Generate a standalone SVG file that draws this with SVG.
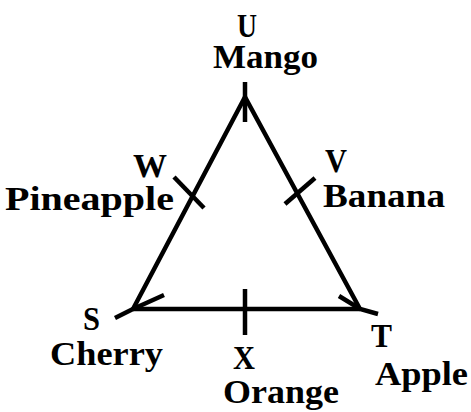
<svg xmlns="http://www.w3.org/2000/svg" width="471" height="412" viewBox="0 0 471 412">
<style>
.t{font-family:"Liberation Serif","Times New Roman",serif;font-weight:bold;font-size:34px;fill:#000}
.l{stroke:#000;stroke-width:4.5;fill:none;stroke-linecap:butt;stroke-linejoin:miter}
</style>
<rect width="471" height="412" fill="#fff"/>
<g id="connectors">
<path class="l" d="M133,309 L245,97 L360,309"/>
<path class="l" d="M133,309 L360,309"/>
<path class="l" d="M245,82 L245,122"/>
<path class="l" d="M115,318 L133,309 M164,295 L133,309"/>
<path class="l" d="M339,296 L360,309 L378,314"/>
<path class="l" d="M174,177 L204,208"/>
<path class="l" d="M285,204 L315,178"/>
<path class="l" d="M245,289 L245,335"/>
</g>
<g id="U"><text class="t" x="237" y="37" textLength="20" lengthAdjust="spacingAndGlyphs">U</text><text class="t" x="213" y="68" textLength="105" lengthAdjust="spacingAndGlyphs">Mango</text></g>
<g id="W"><text class="t" x="133" y="177" textLength="34" lengthAdjust="spacingAndGlyphs">W</text><text class="t" x="5" y="210" textLength="169" lengthAdjust="spacingAndGlyphs">Pineapple</text></g>
<g id="V"><text class="t" x="325" y="172" textLength="22" lengthAdjust="spacingAndGlyphs">V</text><text class="t" x="323" y="207" textLength="122" lengthAdjust="spacingAndGlyphs">Banana</text></g>
<g id="S"><text class="t" x="83" y="330" textLength="17" lengthAdjust="spacingAndGlyphs">S</text><text class="t" x="50" y="365" textLength="113" lengthAdjust="spacingAndGlyphs">Cherry</text></g>
<g id="X"><text class="t" x="233" y="369" textLength="22" lengthAdjust="spacingAndGlyphs">X</text><text class="t" x="223" y="403" textLength="116" lengthAdjust="spacingAndGlyphs">Orange</text></g>
<g id="T"><text class="t" x="371" y="347" textLength="21" lengthAdjust="spacingAndGlyphs">T</text><text class="t" x="375" y="385" textLength="93" lengthAdjust="spacingAndGlyphs">Apple</text></g>
</svg>
